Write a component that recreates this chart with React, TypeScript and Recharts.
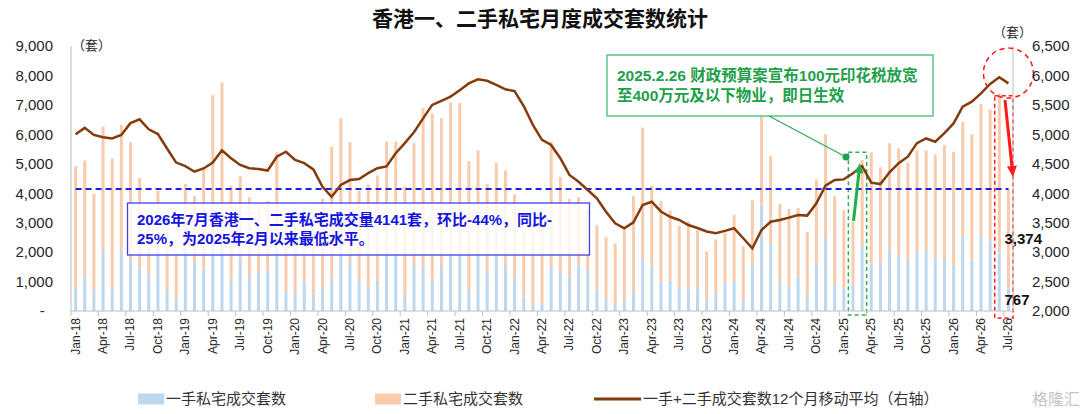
import React from "react";
import {
  Bar,
  ComposedChart,
  LabelList,
  Line,
  ReferenceArea,
  ReferenceDot,
  ReferenceLine,
  XAxis,
  YAxis,
} from "recharts";

// month labels Jan-18 .. Jul-26
const monthNames = ["Jan", "Feb", "Mar", "Apr", "May", "Jun", "Jul", "Aug", "Sep", "Oct", "Nov", "Dec"];
const years = ["18", "19", "20", "21", "22", "23", "24", "25", "26"];
const categories: string[] = years
  .flatMap((y) => monthNames.map((m) => `${m}-${y}`))
  .slice(0, 103);

// 一手私宅成交套数
const primary = [
  820, 1160, 730, 2100, 770, 2050, 1730, 1470, 1240, 2200, 710, 400,
  2210, 1640, 1440, 2400, 2300, 1100, 1780, 1230, 1330, 1380, 2120, 650,
  620, 1000, 600, 780, 1110, 2200, 1670, 1060, 800, 1030, 2160, 2090,
  580, 1530, 1530, 1070, 1540, 1900, 2010, 710, 1960, 1290, 1880, 1500,
  1080, 485, 180, 270, 1500, 1400, 1160, 1550, 1420, 710, 370, 240,
  370, 640, 1780, 1550, 980, 1030, 820, 760, 770, 370, 580, 970,
  990, 370, 1500, 3610, 2290, 990, 850, 1160, 540, 1610, 2480, 880,
  770, 910, 2200, 1610, 1670, 2130, 1870, 1780, 2030, 2030, 1800, 1730,
  1550, 2540, 1750, 2560, 2380, 1990, 767,
];

// 二手私宅成交套数
const secondary = [
  4100, 3950, 3250, 4160, 4410, 4280, 4000, 3050, 1860, 1890, 2490, 1550,
  2110, 2260, 3440, 4930, 5460, 3160, 2790, 2640, 2290, 2360, 3270, 2650,
  2580, 2530, 2850, 3030, 4470, 4350, 4060, 3030, 3500, 3570, 3590, 3660,
  3650, 4170, 5360, 5640, 5010, 5180, 5050, 4380, 3490, 3020, 3150, 3270,
  2880, 2245, 2470, 2830, 4250, 3150, 2640, 2320, 2030, 2200, 2150, 2050,
  2410, 3260, 4450, 2710, 2750, 2380, 2070, 2290, 1980, 1660, 1850, 1690,
  2280, 1830, 2260, 4090, 2970, 2650, 2620, 2340, 2150, 2860, 3530, 3020,
  2650, 2110, 2930, 3780, 3210, 3570, 3650, 3250, 3420, 3420, 3520, 3910,
  3860, 3890, 4250, 4470, 4460, 5405, 3374,
];

// 一手+二手成交套数12个月移动平均（右轴）
const movingAvg = [
  5000, 5110, 4990, 4950, 4930, 4990, 5190, 5255, 5085, 5005, 4760, 4520,
  4460, 4365, 4420, 4520, 4730, 4595, 4480, 4425, 4410, 4385, 4620, 4705,
  4565, 4510, 4405, 4110, 3940, 4140, 4224, 4240, 4340, 4425, 4455, 4680,
  4850, 5035, 5270, 5500, 5570, 5640, 5750, 5865, 5935, 5910, 5840, 5765,
  5735, 5480, 5160, 4905, 4820, 4595, 4310, 4195, 4055, 3915, 3685, 3490,
  3405, 3505, 3800, 3855, 3690, 3600, 3545, 3460, 3410, 3350, 3320, 3360,
  3405, 3235, 3065, 3375, 3515, 3545, 3585, 3630, 3620, 3830, 4130, 4225,
  4235, 4340, 4460, 4180, 4155, 4355, 4510, 4620, 4850, 4930, 4875, 5020,
  5185, 5470, 5555, 5695, 5855, 5970, 5865,
];

const leftTicks = [0, 1000, 2000, 3000, 4000, 5000, 6000, 7000, 8000, 9000];
const rightTicks = [2000, 2500, 3000, 3500, 4000, 4500, 5000, 5500, 6000, 6500];

const latestTotal = 4141;

const data = categories.map((month, i) => ({
  month,
  primary: primary[i],
  secondary: secondary[i],
  ma: movingAvg[i],
}));

const LAST = categories.length - 1;
const FONT = "'Liberation Sans', Arial, 'Noto Sans CJK SC', sans-serif";
const PLOT_LEFT = 71;
const PLOT_RIGHT = 1013;
const HALF_BAND = (PLOT_RIGHT - PLOT_LEFT) / categories.length / 2;

const fmt = (v: number) => v.toLocaleString("en-US");

function XTick(props: any) {
  const { x, y, payload } = props;
  return (
    <g>
      <line x1={x - HALF_BAND} x2={x - HALF_BAND} y1={y} y2={y + 5} stroke="#BFBFBF" />
      <text
        transform={`translate(${x + 4},${y + 7}) rotate(-90)`}
        textAnchor="end"
        fontSize={12}
        fill="#262626"
        fontFamily={FONT}
      >
        {payload.value}
      </text>
    </g>
  );
}

function lastValueLabel(props: any) {
  const { x, y, width, height, value, index } = props;
  if (index !== LAST) return null;
  return (
    <text
      x={x + width / 2 - 4}
      y={y + height / 2 + 5}
      fontSize={15}
      fontWeight="bold"
      fill="#111"
      fontFamily={FONT}
    >
      {fmt(value)}
    </text>
  );
}

export default function App() {
  return (
    <div style={{ position: "relative", width: 1080, height: 414, background: "#fff", fontFamily: FONT }}>
      <style>{"body{margin:0}"}</style>
      <ComposedChart
        width={1080}
        height={414}
        data={data}
        margin={{ top: 46, right: 7, bottom: 43, left: 0 }}
        barCategoryGap="34%"
      >
        <XAxis
          dataKey="month"
          interval={2}
          height={60}
          tickSize={0}
          tickMargin={0}
          tickLine={false}
          axisLine={{ stroke: "#BFBFBF" }}
          tick={<XTick />}
        />
        <YAxis
          yAxisId="left"
          domain={[0, 9000]}
          ticks={leftTicks}
          width={71}
          tickSize={0}
          tickMargin={18}
          tickLine={false}
          axisLine={{ stroke: "#BFBFBF" }}
          tick={{ fontSize: 15, fill: "#262626", fontFamily: FONT }}
          tickFormatter={(v: number) => (v === 0 ? "-\u00A0\u00A0" : fmt(v))}
        />
        <YAxis
          yAxisId="right"
          orientation="right"
          domain={[2000, 6500]}
          ticks={rightTicks}
          width={60}
          tickSize={0}
          tickMargin={19}
          tickLine={false}
          axisLine={{ stroke: "#BFBFBF" }}
          tick={{ fontSize: 15, fill: "#262626", fontFamily: FONT }}
          tickFormatter={fmt}
        />
        <Bar yAxisId="left" dataKey="primary" stackId="a" fill="#BDD7EE" isAnimationActive={false}>
          <LabelList dataKey="primary" content={lastValueLabel} />
        </Bar>
        <Bar yAxisId="left" dataKey="secondary" stackId="a" fill="#F8CBAD" isAnimationActive={false}>
          <LabelList dataKey="secondary" content={lastValueLabel} />
        </Bar>
        <ReferenceLine
          yAxisId="left"
          segment={[
            { x: categories[0], y: latestTotal },
            { x: categories[LAST], y: latestTotal },
          ]}
          stroke="#1F1FE0"
          strokeWidth={2}
          strokeDasharray="6 4"
        />
        <Line
          yAxisId="right"
          dataKey="ma"
          type="linear"
          stroke="#843C0C"
          strokeWidth={2.5}
          dot={false}
          isAnimationActive={false}
        />
        <ReferenceArea
          yAxisId="left"
          x1="Feb-25"
          x2="Mar-25"
          y1={-135}
          y2={5390}
          ifOverflow="visible"
          fill="none"
          stroke="#2EAF55"
          strokeWidth={1.5}
          strokeDasharray="4 3"
        />
        <ReferenceArea
          yAxisId="left"
          x1="Jun-26"
          x2="Jul-26"
          y1={-237}
          y2={7310}
          ifOverflow="visible"
          fill="none"
          stroke="#FF1A1A"
          strokeWidth={1.5}
          strokeDasharray="4 3"
        />
        <ReferenceDot
          yAxisId="right"
          x="Jul-26"
          y={6040}
          r={25}
          ifOverflow="visible"
          fill="none"
          stroke="#FF1A1A"
          strokeWidth={1.5}
          strokeDasharray="5 4"
        />
      </ComposedChart>

      <svg
        width={1080}
        height={414}
        style={{ position: "absolute", left: 0, top: 0, pointerEvents: "none" }}
        fontFamily={FONT}
      >
        <text x={540} y={26} textAnchor="middle" fontSize={21} fontWeight="bold" fill="#111">
          香港一、二手私宅月度成交套数统计
        </text>
        <text x={72} y={50} fontSize={13} fill="#262626">（套）</text>
        <text x={993} y={37} fontSize={13} fill="#262626">（套）</text>

        {/* blue note */}
        <rect x={127.5} y={203} width={462} height={52} fill="#fff" fillOpacity={0.8} stroke="#4040F0" strokeWidth={1.3} />
        <text x={137} y={225} fontSize={15} fontWeight="bold" fill="#1515E0">
          2026年7月香港一、二手私宅成交量4141套，环比-44%，同比-
        </text>
        <text x={137} y={244} fontSize={15} fontWeight="bold" fill="#1515E0">
          25%，为2025年2月以来最低水平。
        </text>

        {/* green note */}
        <rect x={607} y={55} width={326} height={61} fill="#fff" stroke="#5CC485" strokeWidth={1.5} />
        <text x={617} y={81} fontSize={15.5} fontWeight="bold" fill="#1FA04A">
          2025.2.26 财政预算案宣布100元印花税放宽
        </text>
        <text x={617} y={101} fontSize={15.5} fontWeight="bold" fill="#1FA04A">
          至400万元及以下物业，即日生效
        </text>
        <line x1={769} y1={116} x2={846} y2={157} stroke="#2EAF55" strokeWidth={1.3} />
        <circle cx={846} cy={157} r={3.5} fill="#1FA04A" />
        <line x1={853.5} y1={221} x2={858.9} y2={172.9} stroke="#1FB04A" strokeWidth={3} />
        <polygon points="860,163 863.4,173.4 854.4,172.4" fill="#1FB04A" />

        {/* red arrow */}
        <line x1={1005} y1={100} x2={1011.9} y2={166} stroke="#FF1A1A" strokeWidth={3} />
        <polygon points="1013,177 1016.9,165.5 1006.9,166.5" fill="#FF1A1A" />

        {/* legend */}
        <rect x={138} y={393.5} width={26} height={11} fill="#BDD7EE" />
        <text x={166} y={404} fontSize={15} fill="#333">一手私宅成交套数</text>
        <rect x={375} y={393.5} width={26} height={11} fill="#F8CBAD" />
        <text x={403} y={404} fontSize={15} fill="#333">二手私宅成交套数</text>
        <line x1={594} x2={641} y1={399} y2={399} stroke="#843C0C" strokeWidth={3} />
        <text x={643} y={404} fontSize={15} fill="#333">一手+二手成交套数12个月移动平均（右轴）</text>
        <text x={1032} y={405} fontSize={16} fill="#C4C4C4">格隆汇</text>
      </svg>
    </div>
  );
}
